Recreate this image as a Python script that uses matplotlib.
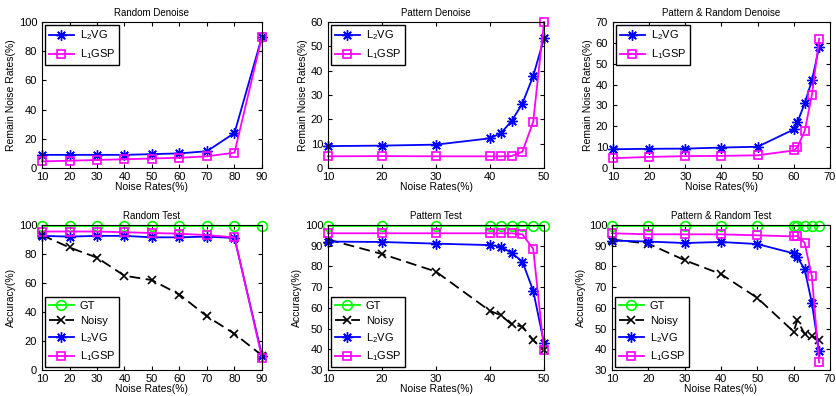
import numpy as np
from matplotlib import pyplot as plt

# データ
x_rd = [10, 20, 30, 40, 50, 60, 70, 80, 90]
rd_l2vg = [9, 9, 9, 9, 9.5, 10, 11.5, 24, 90]
rd_l1gsp = [4.5, 5, 5.5, 6, 6.5, 7, 8, 10.5, 90]

x_pd = [10, 20, 30, 40, 42, 44, 46, 48, 50]
pd_l2vg = [9, 9.2, 9.6, 12.2, 14.3, 19.3, 26.5, 37.8, 53.3]
pd_l1gsp = [4.8, 4.9, 4.8, 4.8, 4.8, 4.9, 6.7, 19, 60]

x_prd = [10, 20, 30, 40, 50, 60, 61, 63, 65, 67]
prd_l2vg = [9, 9.2, 9.3, 9.8, 10.2, 18.5, 22, 31, 42, 58]
prd_l1gsp = [4.7, 5.3, 5.7, 5.8, 6.1, 8.4, 10, 17.8, 35, 62]

rt_gt = [99.5] * 9
rt_noisy = [93, 84.5, 77.5, 65, 62, 52, 37, 25, 10]
rt_l2vg = [92.5, 92, 92.5, 92.5, 91.5, 91.5, 92, 91, 10]
rt_l1gsp = [95.5, 95.5, 95.5, 95, 94.5, 94, 93, 91.5, 8.5]

pt_gt = [99.5] * 9
pt_noisy = [93, 86, 77.5, 58.5, 56.5, 52, 51, 44.5, 39.5]
pt_l2vg = [92, 91.8, 91, 90.3, 89.5, 86.5, 82.3, 68.3, 43]
pt_l1gsp = [96, 96, 96, 96, 96, 96, 95.5, 88.5, 39.5]

prt_gt = [99.5] * 10
prt_noisy = [93, 91, 83, 76.3, 64.8, 48.5, 54, 47.5, 46.5, 44.5]
prt_l2vg = [92.5, 92, 91.3, 91.8, 90.8, 86.3, 84.5, 78.7, 62.5, 39]
prt_l1gsp = [96, 95.5, 95.5, 95.5, 95, 94.5, 94.8, 91.5, 75.3, 33.7]

plt.rcParams['font.size'] = 8
plt.rcParams['font.family'] = 'Liberation Sans'
plt.rcParams['mathtext.default'] = 'regular'
plt.rcParams['xtick.direction'] = 'in'
plt.rcParams['ytick.direction'] = 'in'
plt.rcParams['xtick.major.size'] = 3
plt.rcParams['ytick.major.size'] = 3
plt.rcParams['axes.linewidth'] = 0.8

W, H = 837, 396
fig = plt.figure(figsize=(W / 100, H / 100), dpi=100)

def add_ax(l, r, t, b):
    return fig.add_axes([l / W, 1 - b / H, (r - l) / W, (b - t) / H])

star = (8, 2, 0)
sty_l2 = dict(color='#0000ff', lw=1.3, marker=star, ms=7.5, mew=1.0, label='L$_2$VG')
sty_l1 = dict(color='#ff00ff', lw=1.3, marker='s', ms=6, mfc='none', mew=1.2, label='L$_1$GSP')
sty_gt = dict(color='#00ff00', lw=1.3, marker='o', ms=7, mfc='none', mew=1.2, label='GT')
sty_ns = dict(color='k', lw=1.3, ls=(0, (6, 3)), marker='x', ms=5.5, mew=1.2, label='Noisy')

def style(ax, xlim, ylim, xt, yt, title, ylabel):
    ax.set_xlim(xlim)
    ax.set_ylim(ylim)
    ax.set_xticks(xt)
    ax.set_yticks(yt)
    ax.xaxis.set_ticks_position('both')
    ax.yaxis.set_ticks_position('both')
    ax.tick_params(labelsize=8)
    ax.tick_params(axis='x', pad=3)
    ax.tick_params(axis='y', pad=3.5)
    ax.set_title(title, fontsize=7, pad=4)
    ax.set_xlabel('Noise Rates(%)', fontsize=7.5, labelpad=0)
    ax.set_ylabel(ylabel, fontsize=7.5, labelpad=2)

def leg(ax, loc):
    l = ax.legend(loc=loc, fontsize=8, handlelength=2.3, handletextpad=0.5,
                  fancybox=False, edgecolor='k', framealpha=1,
                  borderaxespad=0.25, labelspacing=0.45, borderpad=0.35)
    l.get_frame().set_linewidth(1.0)

ax = add_ax(42, 262, 22, 168)
ax.plot(x_rd, rd_l2vg, **sty_l2)
ax.plot(x_rd, rd_l1gsp, **sty_l1)
style(ax, (10, 90), (0, 100), range(10, 91, 10), range(0, 101, 20),
      'Random Denoise', 'Remain Noise Rates(%)')
leg(ax, 'upper left')

ax = add_ax(328, 544, 22, 168)
ax.plot(x_pd, pd_l2vg, **sty_l2)
ax.plot(x_pd, pd_l1gsp, **sty_l1)
style(ax, (10, 50), (0, 60), range(10, 51, 10), range(0, 61, 10),
      'Pattern Denoise', 'Remain Noise Rates(%)')
leg(ax, 'upper left')

ax = add_ax(613, 830, 22, 168)
ax.plot(x_prd, prd_l2vg, **sty_l2)
ax.plot(x_prd, prd_l1gsp, **sty_l1)
style(ax, (10, 70), (0, 70), range(10, 71, 10), range(0, 71, 10),
      'Pattern & Random Denoise', 'Remain Noise Rates(%)')
leg(ax, 'upper left')

ax = add_ax(42, 262, 225, 370)
ax.plot(x_rd, rt_gt, **sty_gt)
ax.plot(x_rd, rt_noisy, **sty_ns)
ax.plot(x_rd, rt_l2vg, **sty_l2)
ax.plot(x_rd, rt_l1gsp, **sty_l1)
style(ax, (10, 90), (0, 100), range(10, 91, 10), range(0, 101, 20),
      'Random Test', 'Accuracy(%)')
leg(ax, 'lower left')

ax = add_ax(328, 544, 225, 370)
ax.plot(x_pd, pt_gt, **sty_gt)
ax.plot(x_pd, pt_noisy, **sty_ns)
ax.plot(x_pd, pt_l2vg, **sty_l2)
ax.plot(x_pd, pt_l1gsp, **sty_l1)
style(ax, (10, 50), (30, 100), range(10, 51, 10), range(30, 101, 10),
      'Pattern Test', 'Accuracy(%)')
leg(ax, 'lower left')

ax = add_ax(612, 830, 225, 370)
ax.plot(x_prd, prt_gt, **sty_gt)
ax.plot(x_prd, prt_noisy, **sty_ns)
ax.plot(x_prd, prt_l2vg, **sty_l2)
ax.plot(x_prd, prt_l1gsp, **sty_l1)
style(ax, (10, 70), (30, 100), range(10, 71, 10), range(30, 101, 10),
      'Pattern & Random Test', 'Accuracy(%)')
leg(ax, 'lower left')

for a in fig.axes:
    for line in a.lines:
        line.set_clip_on(False)

fig.savefig('out.png', dpi=100)
plt.close()
